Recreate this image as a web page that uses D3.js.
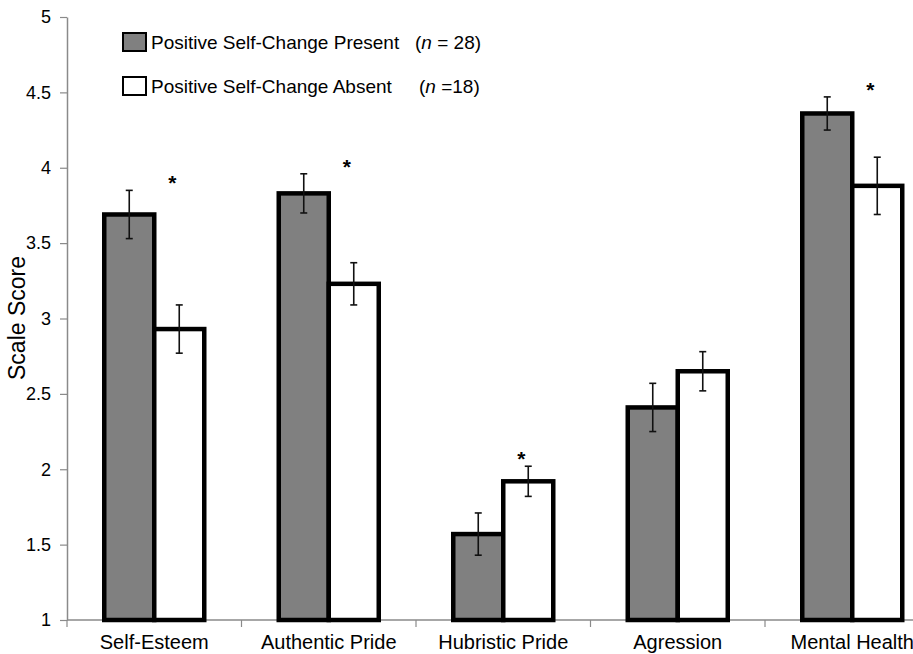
<!DOCTYPE html>
<html>
<head>
<meta charset="utf-8">
<script src="https://cdn.jsdelivr.net/npm/d3@7"></script>
<style>
  html, body { margin: 0; padding: 0; background: #fff; }
  svg { display: block; font-family: "Liberation Sans", Arial, sans-serif; }
</style>
</head>
<body>
<svg id="chart" width="913" height="654"></svg>
<script>
// ---- data ----
const categories = ["Self-Esteem", "Authentic Pride", "Hubristic Pride", "Agression", "Mental Health"];
const groups = ["present", "absent"];
const presentMeans = [3.69, 3.83, 1.57, 2.41, 4.36];
const presentErr   = [0.16, 0.13, 0.14, 0.16, 0.11];
const absentMeans  = [2.93, 3.23, 1.92, 2.65, 3.88];
const absentErr    = [0.16, 0.14, 0.10, 0.13, 0.19];
const significant  = [true, true, true, false, true];
const yTicks = [1, 1.5, 2, 2.5, 3, 3.5, 4, 4.5, 5];
const legendLabels = ["Positive Self-Change Present", "Positive Self-Change Absent"];
const legendN = ["28", "18"];
const yTitle = "Scale Score";

// ---- layout ----
const svg = d3.select("#chart");
const plotLeft = 67, plotTop = 17, plotBottom = 620, step = 174.5;
const fills = { present: "#808080", absent: "#ffffff" };
const axisColor = "#8a8a8a";

const x0 = d3.scaleBand().domain(categories).range([plotLeft, plotLeft + step * categories.length]).padding(0);
const x1 = d3.scaleBand().domain(groups).range([0, x0.bandwidth()]).paddingInner(0).paddingOuter(0.745);
const y = d3.scaleLinear().domain([1, 5]).range([plotBottom, plotTop]);

const rows = categories.map((c, i) => ({
  cat: c,
  sig: significant[i],
  vals: [
    { g: "present", v: presentMeans[i], e: presentErr[i] },
    { g: "absent", v: absentMeans[i], e: absentErr[i] }
  ]
}));

// y axis
const yAxis = svg.append("g")
  .attr("transform", `translate(${plotLeft},0)`)
  .call(d3.axisLeft(y).tickValues(yTicks).tickSize(7).tickSizeOuter(0).tickPadding(9).tickFormat(d => String(d)));
yAxis.select(".domain").attr("stroke", axisColor).attr("stroke-width", 1.5);
yAxis.selectAll(".tick line").attr("stroke", axisColor).attr("stroke-width", 1.2);
yAxis.selectAll(".tick text").attr("fill", "#000").attr("font-size", 18)
  .attr("font-family", "Liberation Sans, Arial, sans-serif");

// y title
svg.append("text")
  .attr("transform", `translate(25,318) rotate(-90)`)
  .attr("text-anchor", "middle")
  .attr("font-size", 23)
  .text(yTitle);

// x axis line + ticks
svg.append("line")
  .attr("x1", plotLeft).attr("x2", 913)
  .attr("y1", y(1)).attr("y2", y(1))
  .attr("stroke", axisColor).attr("stroke-width", 1.5);
const boundaries = categories.map(c => x0(c)).concat([x0.range()[1]]);
svg.append("g").selectAll("line").data(boundaries).join("line")
  .attr("x1", d => d).attr("x2", d => d)
  .attr("y1", y(1)).attr("y2", y(1) + 7)
  .attr("stroke", axisColor).attr("stroke-width", 1.2);

// bars
const gCat = svg.append("g").selectAll("g").data(rows).join("g")
  .attr("transform", d => `translate(${x0(d.cat)},0)`);

gCat.selectAll("rect").data(d => d.vals).join("rect")
  .attr("x", d => x1(d.g))
  .attr("y", d => y(d.v))
  .attr("width", x1.bandwidth())
  .attr("height", d => y(1) - y(d.v))
  .attr("fill", d => fills[d.g])
  .attr("stroke", "#000")
  .attr("stroke-width", 4.5);

// error bars
const eb = gCat.selectAll("g.err").data(d => d.vals).join("g").attr("class", "err")
  .attr("stroke", "#111").attr("stroke-width", 1.6);
const cx = d => x1(d.g) + x1.bandwidth() / 2;
eb.append("line").attr("x1", cx).attr("x2", cx)
  .attr("y1", d => y(d.v + d.e)).attr("y2", d => y(d.v - d.e));
eb.append("line").attr("x1", d => cx(d) - 3.5).attr("x2", d => cx(d) + 3.5)
  .attr("y1", d => y(d.v + d.e)).attr("y2", d => y(d.v + d.e));
eb.append("line").attr("x1", d => cx(d) - 3.5).attr("x2", d => cx(d) + 3.5)
  .attr("y1", d => y(d.v - d.e)).attr("y2", d => y(d.v - d.e));

// significance asterisks
gCat.filter(d => d.sig).append("text")
  .attr("x", x0.bandwidth() / 2 + 18)
  .attr("y", d => d3.min(d.vals, v => y(v.v + v.e)))
  .attr("text-anchor", "middle")
  .attr("font-size", 21)
  .attr("font-weight", "bold")
  .text("*");

// category labels
svg.append("g").selectAll("text").data(categories).join("text")
  .attr("x", d => x0(d) + x0.bandwidth() / 2)
  .attr("y", 649)
  .attr("text-anchor", "middle")
  .attr("font-size", 20)
  .text(d => d);

// legend
const legend = svg.append("g").selectAll("g").data(groups).join("g")
  .attr("transform", (d, i) => `translate(123,${33 + i * 44})`);
legend.append("rect")
  .attr("width", 23).attr("height", 18)
  .attr("fill", d => fills[d]).attr("stroke", "#000").attr("stroke-width", 2);
legend.append("text")
  .attr("x", 28).attr("y", 15.5)
  .attr("font-size", 19)
  .text((d, i) => legendLabels[i]);
const nText = legend.append("text")
  .attr("x", (d, i) => i === 0 ? 292 : 296).attr("y", 15.5)
  .attr("font-size", 19);
nText.append("tspan").text("(");
nText.append("tspan").attr("font-style", "italic").text("n");
nText.append("tspan").text((d, i) => i === 0 ? " = " + legendN[i] + ")" : " =" + legendN[i] + ")");
</script>
</body>
</html>
